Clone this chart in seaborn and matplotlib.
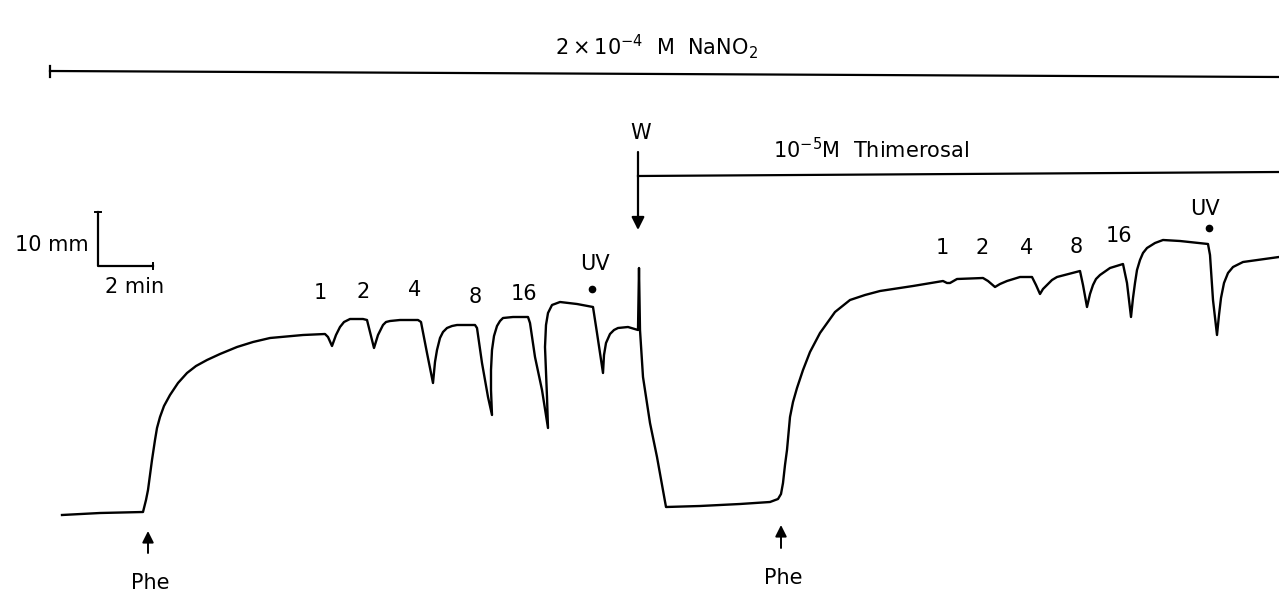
import matplotlib
matplotlib.use("Agg")
import matplotlib.pyplot as plt
import seaborn as sns
import pandas as pd

# ---- data (pixel-space coordinates, y grows downward) ----
trace_x = [62, 100, 143, 146, 148, 150, 152, 155, 157, 160, 164, 170, 178, 187, 196, 207,
           220, 237, 253, 270, 303, 325, 328, 332,
           336, 340, 344, 350, 363, 367, 374, 378, 383, 386, 390, 400, 418, 421, 427, 433,
           435, 437, 440, 443, 447, 452, 457, 475,
           477, 482, 488, 492, 491, 491, 492, 494, 497, 500, 503, 513, 528, 530, 535, 542,
           548, 547, 545, 546, 548, 552, 560, 577, 593, 597, 603, 604, 606, 610, 614, 618,
           628, 638, 639, 640, 643, 650, 657, 666, 700, 740, 770, 778, 781, 783, 785, 787,
           790, 793, 797, 803, 810, 820, 835, 850, 865, 880,
           913, 943, 947, 950, 957, 983, 988, 995, 1000, 1007, 1020, 1032, 1036, 1040, 1043,
           1047, 1052, 1057, 1080, 1083, 1087, 1090, 1093, 1096, 1100, 1110, 1123, 1127,
           1131, 1133, 1135, 1137, 1140, 1143, 1147, 1155, 1163, 1180, 1208, 1210, 1213,
           1217, 1219, 1221, 1224, 1228, 1233, 1243, 1279]
trace_y = [515, 513, 512, 500, 490, 475, 460, 440, 428, 417, 406, 395, 383, 373, 366, 360,
           354, 347, 342, 338, 335, 334, 337, 346,
           335, 327, 322, 319, 319, 320, 348, 335, 325, 322, 321, 320, 320, 322, 353, 383,
           362, 350, 338, 332, 328, 326, 325, 325,
           328, 363, 397, 415, 390, 370, 350, 336, 326, 321, 318, 317, 317, 323, 357, 390,
           428, 397, 347, 325, 313, 305, 302, 304, 307, 333, 373, 355, 343, 334, 330, 328,
           327, 330, 268, 330, 377, 423, 457, 507, 506, 504, 502, 499, 494, 483, 465, 450,
           417, 402, 388, 370, 352, 333, 312, 300, 295, 291,
           286, 281, 283, 283, 279, 278, 281, 287, 284, 281, 277, 277, 285, 294, 289,
           285, 280, 277, 271, 285, 307, 294, 285, 279, 275, 268, 264, 283,
           317, 298, 283, 270, 260, 253, 248, 243, 240, 241, 244, 255, 300,
           335, 315, 298, 283, 273, 267, 262, 257]

dose_labels_1 = ["1", "2", "4", "8", "16"]
dose_x_1 = [320, 363, 415, 475, 524]
dose_y_1 = [293, 292, 290, 297, 294]
dose_labels_2 = ["1", "2", "4", "8", "16"]
dose_x_2 = [942, 982, 1027, 1076, 1119]
dose_y_2 = [248, 248, 248, 247, 236]

title_text = r"$2\times10^{-4}$  M  NaNO$_2$"
thim_text = r"$10^{-5}$M  Thimerosal"

df = pd.DataFrame({"x": trace_x, "y": trace_y})

W, H = 1279, 595
fig = plt.figure(figsize=(W / 100, H / 100), dpi=100)
ax = fig.add_axes([0, 0, 1, 1])
sns.lineplot(data=df, x="x", y="y", sort=False, estimator=None, color="black",
             linewidth=1.7, ax=ax)
ax.set_xlim(0, W)
ax.set_ylim(H, 0)
ax.axis("off")

fs = 15
txt = dict(color="black", fontsize=fs, family="DejaVu Sans")

# NaNO2 bar
ax.text(656, 47, title_text, ha="center", va="center", **txt)
ax.plot([50, 1279], [71, 77], color="black", lw=1.6)
ax.plot([50, 50], [66, 77], color="black", lw=1.6)

# W washout + thimerosal bar
ax.text(641, 133, "W", ha="center", va="center", **txt)
ax.annotate("", xy=(638, 230), xytext=(638, 152),
            arrowprops=dict(arrowstyle="-|>", color="black", lw=1.6, mutation_scale=19,
                            shrinkA=0, shrinkB=0))
ax.plot([638, 1279], [176, 172], color="black", lw=1.6)
ax.text(871, 150, thim_text, ha="center", va="center", **txt)

# scale bar
ax.plot([98, 98, 153], [212, 266, 266], color="black", lw=1.6)
ax.plot([95, 101], [212, 212], color="black", lw=1.4)
ax.plot([153, 153], [263, 269], color="black", lw=1.4)
ax.text(89, 245, "10 mm", ha="right", va="center", **txt)
ax.text(135, 287, "2 min", ha="center", va="center", **txt)

# dose labels
for lab, x, y in zip(dose_labels_1, dose_x_1, dose_y_1):
    ax.text(x, y, lab, ha="center", va="center", **txt)
for lab, x, y in zip(dose_labels_2, dose_x_2, dose_y_2):
    ax.text(x, y, lab, ha="center", va="center", **txt)

# UV markers
ax.text(595, 264, "UV", ha="center", va="center", **txt)
ax.plot([592], [289], "o", color="black", ms=4.5)
ax.text(1205, 209, "UV", ha="center", va="center", **txt)
ax.plot([1209], [228], "o", color="black", ms=4.5)

# Phe arrows
for px, tip, tail, ty in [(148, 531, 553, 583), (781, 525, 548, 578)]:
    ax.annotate("", xy=(px, tip), xytext=(px, tail),
                arrowprops=dict(arrowstyle="-|>", color="black", lw=1.4, mutation_scale=17,
                                shrinkA=0, shrinkB=0))
    ax.text(px + 2, ty, "Phe", ha="center", va="center", **txt)

fig.savefig("out.png", dpi=100, facecolor="white")
